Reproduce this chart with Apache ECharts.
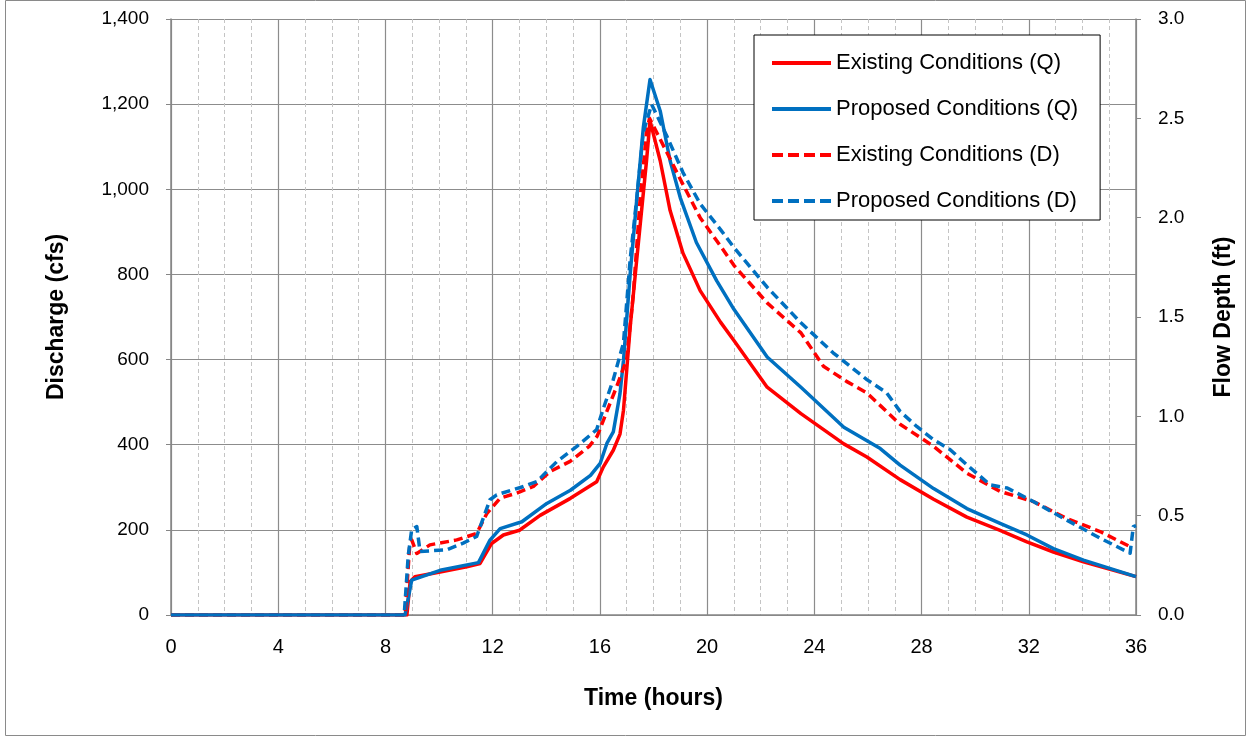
<!DOCTYPE html>
<html>
<head>
<meta charset="utf-8">
<script src="https://cdn.jsdelivr.net/npm/echarts@6/dist/echarts.min.js"></script>
<style>
html,body{margin:0;padding:0;background:#fff;}
#chart{width:1247px;height:736px;}
</style>
</head>
<body>
<div id="chart"></div>
<script>
// ---- Data ----
var xTicks = [0, 4, 8, 12, 16, 20, 24, 28, 32, 36];

var exQ_t = [0, 8.8, 8.92, 9.1, 10.04, 11.03, 11.53, 11.96, 12.4, 13.0, 13.77, 14.9, 15.88, 16.13, 16.5, 16.75, 16.88, 17.13, 17.37, 17.74, 17.87, 18.25, 18.62, 19.1, 19.74, 20.5, 21.0, 22.24, 23.5, 25.1, 25.96, 27.2, 28.45, 29.69, 30.93, 31.93, 32.92, 34.04, 35.9, 36];
var exQ_v = [0, 0, 78, 90, 101, 113, 121, 168, 188, 199, 234, 274, 313, 348, 387, 425, 481, 676, 832, 1067, 1161, 1067, 950, 850, 762, 688, 645, 535, 473, 402, 371, 318, 272, 230, 199, 172, 148, 125, 92, 90];

var prQ_t = [0, 8.73, 8.98, 10.04, 11.47, 11.9, 12.28, 13.09, 14.02, 14.9, 15.65, 16.01, 16.26, 16.5, 16.75, 16.88, 17.13, 17.37, 17.62, 17.87, 18.25, 18.62, 19.0, 19.6, 20.36, 21.0, 22.24, 23.5, 25.1, 26.46, 27.2, 28.45, 29.69, 30.93, 31.93, 32.92, 34.04, 36];
var prQ_v = [0, 0, 82, 105, 123, 176, 203, 219, 262, 293, 328, 356, 403, 430, 520, 598, 801, 973, 1145, 1258, 1184, 1067, 980, 875, 785, 718, 606, 535, 441, 391, 352, 297, 250, 215, 188, 156, 129, 90];

var exD_t = [0, 8.73, 8.9, 8.98, 9.17, 9.66, 10.66, 11.4, 11.78, 12.28, 12.9, 13.52, 14.14, 14.89, 15.6, 15.9, 16.26, 16.63, 17.0, 17.25, 17.5, 17.74, 17.85, 18.5, 19.0, 19.74, 20.5, 21.0, 22.24, 23.5, 24.34, 25.2, 25.96, 27.2, 28.45, 29.69, 30.93, 32.17, 33.4, 34.66, 35.78, 35.85];
var exD_v = [0, 0, 0.34, 0.378, 0.31, 0.353, 0.378, 0.41, 0.51, 0.588, 0.614, 0.647, 0.722, 0.773, 0.849, 0.9, 1.025, 1.151, 1.286, 1.62, 2.09, 2.43, 2.5, 2.328, 2.193, 2.0, 1.857, 1.76, 1.571, 1.42, 1.252, 1.176, 1.118, 0.96, 0.849, 0.714, 0.622, 0.571, 0.487, 0.42, 0.344, 0.344];

var prD_t = [0, 8.7, 8.85, 8.98, 9.17, 9.29, 10.28, 10.9, 11.4, 11.9, 12.15, 13.15, 13.65, 14.4, 15.14, 15.88, 16.13, 16.5, 16.88, 17.13, 17.37, 17.62, 17.93, 18.5, 19.1, 19.74, 20.5, 21.0, 22.24, 23.5, 24.7, 25.96, 26.7, 27.2, 27.82, 28.45, 29.07, 29.69, 30.56, 31.2, 32.17, 33.4, 34.66, 35.78, 35.9, 36];
var prD_v = [0, 0, 0.3, 0.43, 0.445, 0.32, 0.328, 0.362, 0.395, 0.58, 0.605, 0.647, 0.672, 0.773, 0.849, 0.933, 1.04, 1.185, 1.37, 1.79, 2.09, 2.43, 2.57, 2.41, 2.227, 2.07, 1.94, 1.85, 1.65, 1.471, 1.32, 1.185, 1.118, 1.025, 0.949, 0.882, 0.832, 0.756, 0.655, 0.639, 0.571, 0.479, 0.387, 0.311, 0.445, 0.45];

var seriesNames = ['Existing Conditions (Q)', 'Proposed Conditions (Q)', 'Existing Conditions (D)', 'Proposed Conditions (D)'];

function pairs(t, v) { return t.map(function (x, i) { return [x, v[i]]; }); }

var RED = '#FF0000', BLUE = '#0070C0';
var FONT = '"Liberation Sans", Arial, sans-serif';

// legend icons: a solid bar and a dashed bar (scaled to itemWidth x itemHeight)
var ICON_SOLID = 'path://M0,0H59V4H0Z';
var ICON_DASH = 'path://M0,0H11V4H0Z M16,0H27V4H16Z M32,0H43V4H32Z M48,0H59V4H48Z';

var chart = echarts.init(document.getElementById('chart'), null, {renderer: 'canvas'});

function mkSeries(name, data, color, dashed, yIdx) {
  return {
    name: name, type: 'line', data: data, yAxisIndex: yIdx,
    symbol: 'none', smooth: false, animation: false,
    lineStyle: {color: color, width: 3.5, type: dashed ? [9, 5] : 'solid', join: 'round'},
    itemStyle: {color: color}
  };
}

var option = {
  animation: false,
  backgroundColor: '#ffffff',
  grid: {left: 171, right: 111, top: 19, bottom: 121, containLabel: false},
  legend: {
    orient: 'vertical', left: 754, top: 35,
    data: [
      {name: seriesNames[0], icon: ICON_SOLID},
      {name: seriesNames[1], icon: ICON_SOLID},
      {name: seriesNames[2], icon: ICON_DASH},
      {name: seriesNames[3], icon: ICON_DASH}
    ],
    backgroundColor: '#ffffff', borderColor: '#000000', borderWidth: 1, borderRadius: 0,
    padding: [17, 22, 8, 18],
    itemWidth: 59, itemHeight: 4, itemGap: 24,
    textStyle: {fontFamily: FONT, fontSize: 22, color: '#000', lineHeight: 22}
  },
  xAxis: {
    type: 'value', min: 0, max: 36, interval: 4,
    name: 'Time (hours)', nameLocation: 'middle', nameGap: 72,
    nameTextStyle: {fontFamily: FONT, fontWeight: 'bold', fontSize: 23, color: '#000'},
    axisLine: {show: true, onZero: false, lineStyle: {color: '#868686', width: 1.5}},
    axisTick: {show: false},
    axisLabel: {margin: 22, fontFamily: FONT, fontSize: 20, color: '#000',
      formatter: function (v) { return xTicks.indexOf(v) >= 0 ? String(v) : ''; }},
    splitLine: {show: true, lineStyle: {color: '#8c8c8c', width: 1.2}},
    minorTick: {show: false, splitNumber: 4},
    minorSplitLine: {show: true, lineStyle: {color: '#c4c4c4', width: 1, type: [4, 3]}}
  },
  yAxis: [{
    type: 'value', min: 0, max: 1400, interval: 200,
    name: 'Discharge (cfs)', nameLocation: 'middle', nameGap: 103, nameRotate: 90,
    nameTextStyle: {fontFamily: FONT, fontWeight: 'bold', fontSize: 23, color: '#000'},
    axisLine: {show: true, lineStyle: {color: '#868686', width: 1.5}},
    axisTick: {show: true, inside: false, length: 5, lineStyle: {color: '#868686'}},
    axisLabel: {margin: 22, fontFamily: FONT, fontSize: 19, color: '#000',
      formatter: function (v) { return v.toLocaleString('en-US'); }},
    splitLine: {show: true, lineStyle: {color: '#8c8c8c', width: 1.2}}
  }, {
    type: 'value', min: 0, max: 3, interval: 0.5, position: 'right',
    name: 'Flow Depth (ft)', nameLocation: 'middle', nameGap: 76, nameRotate: 90,
    nameTextStyle: {fontFamily: FONT, fontWeight: 'bold', fontSize: 23, color: '#000'},
    axisLine: {show: true, lineStyle: {color: '#868686', width: 1.5}},
    axisTick: {show: true, inside: false, length: 5, lineStyle: {color: '#868686'}},
    axisLabel: {margin: 22, fontFamily: FONT, fontSize: 19, color: '#000',
      formatter: function (v) { return v.toFixed(1); }},
    splitLine: {show: false}
  }],
  graphic: [{
    type: 'rect', left: 3, top: -2, silent: true, z: -10,
    shape: {width: 1240, height: 735},
    style: {fill: 'none', stroke: '#8a8a8a', lineWidth: 1}
  }],
  series: [
    mkSeries(seriesNames[0], pairs(exQ_t, exQ_v), RED, false, 0),
    mkSeries(seriesNames[1], pairs(prQ_t, prQ_v), BLUE, false, 0),
    mkSeries(seriesNames[2], pairs(exD_t, exD_v), RED, true, 1),
    mkSeries(seriesNames[3], pairs(prD_t, prD_v), BLUE, true, 1)
  ]
};
chart.setOption(option);
</script>
</body>
</html>
